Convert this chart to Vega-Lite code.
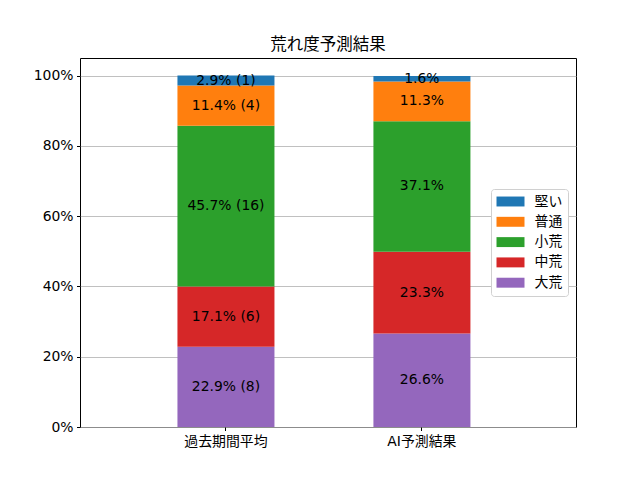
{
  "$schema": "https://vega.github.io/schema/vega-lite/v6.json",
  "autosize": "none",
  "width": 496,
  "height": 369,
  "padding": {"left": 80, "top": 58, "right": 64, "bottom": 53},
  "background": "white",
  "title": {
    "text": "荒れ度予測結果",
    "fontSize": 16.5,
    "fontWeight": "normal",
    "font": "DejaVu Sans, Noto Sans CJK JP",
    "color": "black",
    "offset": 5
  },
  "config": {
    "font": "DejaVu Sans, Noto Sans CJK JP",
    "view": {"stroke": "black", "strokeWidth": 1}
  },
  "data": {
    "values": [
      {"group": "過去期間平均", "cat": "大荒", "pct": 22.857, "label": "22.9% (8)"},
      {"group": "過去期間平均", "cat": "中荒", "pct": 17.143, "label": "17.1% (6)"},
      {"group": "過去期間平均", "cat": "小荒", "pct": 45.714, "label": "45.7% (16)"},
      {"group": "過去期間平均", "cat": "普通", "pct": 11.429, "label": "11.4% (4)"},
      {"group": "過去期間平均", "cat": "堅い", "pct": 2.857, "label": "2.9% (1)"},
      {"group": "AI予測結果", "cat": "大荒", "pct": 26.6, "label": "26.6%"},
      {"group": "AI予測結果", "cat": "中荒", "pct": 23.3, "label": "23.3%"},
      {"group": "AI予測結果", "cat": "小荒", "pct": 37.1, "label": "37.1%"},
      {"group": "AI予測結果", "cat": "普通", "pct": 11.3, "label": "11.3%"},
      {"group": "AI予測結果", "cat": "堅い", "pct": 1.6, "label": "1.6%"}
    ]
  },
  "transform": [
    {"calculate": "indexof(['大荒', '中荒', '小荒', '普通', '堅い'], datum.cat)", "as": "rank"},
    {"stack": "pct", "groupby": ["group"], "sort": [{"field": "rank", "order": "ascending"}], "as": ["y0", "y1"]},
    {"calculate": "(datum.y0 + datum.y1) / 2", "as": "ymid"}
  ],
  "encoding": {
    "x": {
      "field": "group",
      "type": "nominal",
      "sort": ["過去期間平均", "AI予測結果"],
      "scale": {"paddingInner": 0.505, "paddingOuter": 0.518, "align": 0.48},
      "axis": {
        "title": null,
        "labelAngle": 0,
        "labelFontSize": 13.9,
        "labelColor": "black",
        "tickColor": "black",
        "tickSize": 3.5,
        "labelPadding": 3.5,
        "domain": false,
        "grid": false
      }
    }
  },
  "layer": [
    {
      "mark": {"type": "bar"},
      "encoding": {
        "y": {
          "field": "y0",
          "type": "quantitative",
          "scale": {"domain": [0, 105], "nice": false, "zero": true},
          "axis": {
            "title": null,
            "values": [0, 20, 40, 60, 80, 100],
            "labelExpr": "datum.value + '%'",
            "labelFontSize": 13.9,
            "labelColor": "black",
            "tickColor": "black",
            "tickSize": 3.5,
            "labelPadding": 3.5,
            "domain": false,
            "grid": true,
            "gridColor": "#b0b0b0",
            "gridWidth": 0.8
          }
        },
        "y2": {"field": "y1"},
        "color": {
          "field": "cat",
          "type": "nominal",
          "scale": {
            "domain": ["堅い", "普通", "小荒", "中荒", "大荒"],
            "range": ["#1f77b4", "#ff7f0e", "#2ca02c", "#d62728", "#9467bd"]
          },
          "legend": {
            "title": null,
            "orient": "none",
            "legendX": 411,
            "legendY": 131,
            "symbolType": "M-1,-0.71H3V0.71H-1Z",
            "symbolSize": 196,
            "symbolStrokeWidth": 0,
            "labelFontSize": 13.9,
            "labelColor": "black",
            "labelOffset": 24,
            "rowPadding": 6.3,
            "padding": 5.5,
            "fillColor": "white",
            "strokeColor": "#d0d0d0",
            "cornerRadius": 3
          }
        }
      }
    },
    {
      "mark": {"type": "text", "fontSize": 13.9, "color": "black", "baseline": "middle", "align": "center"},
      "encoding": {
        "y": {"field": "ymid", "type": "quantitative"},
        "text": {"field": "label"}
      }
    }
  ]
}
